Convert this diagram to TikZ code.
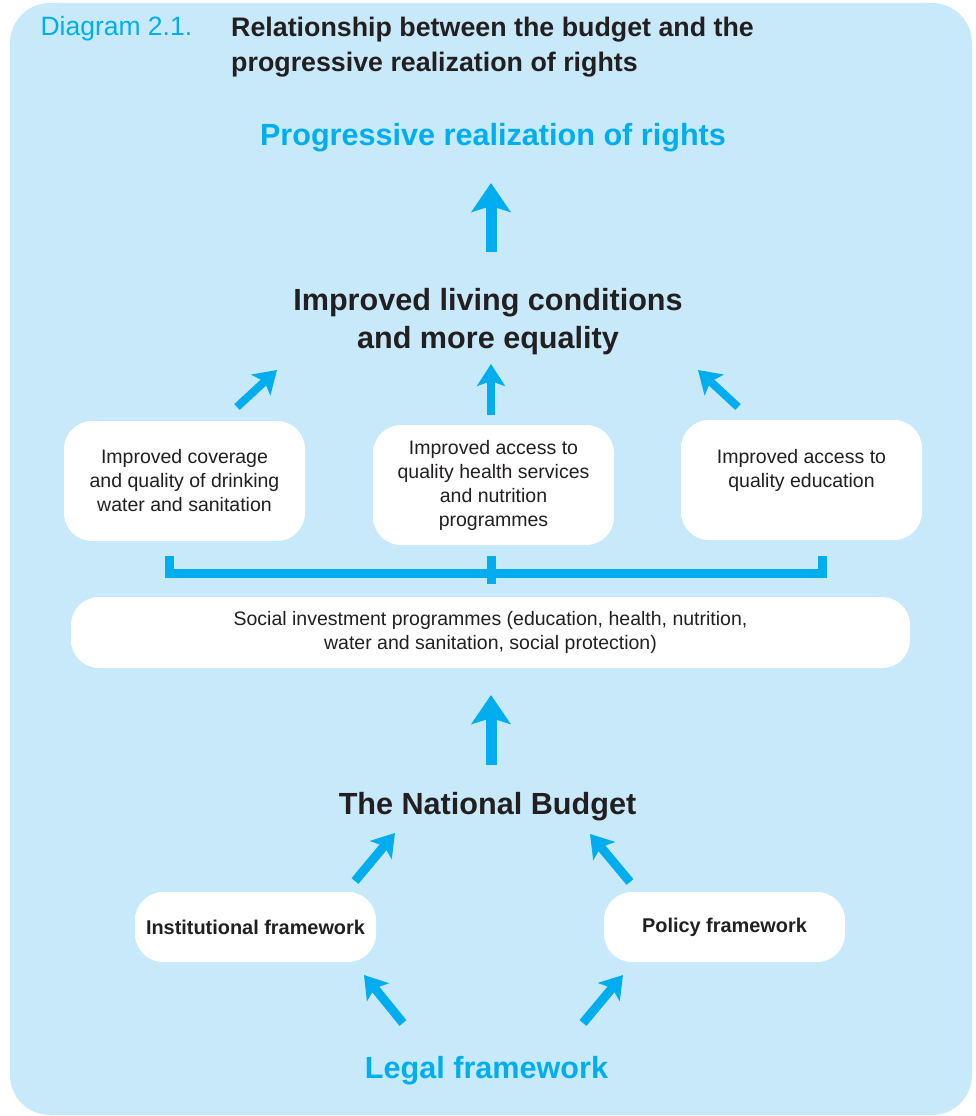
\documentclass[tikz,border=0pt]{standalone}
\usepackage{fontspec}
\setmainfont{Liberation Sans}
\usetikzlibrary{arrows.meta}
\definecolor{ublue}{RGB}{0,174,239}
\definecolor{lightbg}{RGB}{199,233,249}
\definecolor{darktext}{RGB}{35,31,32}
\tikzset{
	box/.style={fill=white, rounded corners=28pt, minimum width=241pt, minimum height=120pt, inner sep=0pt, align=center, text=darktext, font=\fontsize{19.5}{24}\selectfont},
	bigtext/.style={align=center, font=\fontsize{30.6}{38}\selectfont\bfseries},
	bigarrow/.style={draw=ublue, line width=11pt, -{Stealth[length=29pt,width=39pt,inset=6pt]}},
	smallarrow/.style={draw=ublue, line width=8pt, -{Stealth[length=22pt,width=28pt,inset=5pt]}},
	bracket/.style={draw=ublue, line width=9pt},
}

\begin{document}
\begin{tikzpicture}[x=1pt,y=-1pt]
\useasboundingbox (0,0) rectangle (975,1116);
\fill[lightbg, rounded corners=40pt] (10,3) rectangle (972,1115);

\draw (37,36) node[anchor=base west, text=ublue, font=\fontsize{26.5}{35}\selectfont] (diag) {Diagram 2.1.};
\draw (231,17) node[anchor=north west, inner sep=0pt, align=left, text=darktext, font=\fontsize{26.8}{35}\selectfont\bfseries] (title) {Relationship between the budget and the\\progressive realization of rights};

\draw (493,145) node[bigtext, anchor=base, text=ublue] (rights) {Progressive realization of rights};
\draw (488,322) node[bigtext, text=darktext] (living) {Improved living conditions\\and more equality};

\draw (184.5,481) node[box] (water) {Improved coverage\\and quality of drinking\\water and sanitation};
\draw (493.5,485) node[box] (health) {Improved access to\\quality health services\\and nutrition\\programmes};
\draw (801.5,480) node[box] (educ) {Improved access to\\quality education\\\phantom{x}};

\draw (490.5,632.5) node[box, minimum width=839pt, minimum height=71pt] (social) {Social investment programmes (education, health, nutrition,\\water and sanitation, social protection)};

\draw (487.5,814) node[bigtext, anchor=base, text=darktext] (budget) {The National Budget};
\draw (255.5,927) node[box, minimum height=70pt, font=\fontsize{19.9}{24}\selectfont\bfseries] (inst) {Institutional framework};
\draw (724.5,927) node[box, minimum height=70pt, font=\fontsize{19.9}{24}\selectfont\bfseries] (policy) {Policy framework};
\draw (486.5,1078) node[bigtext, anchor=base, text=ublue] (legal) {Legal framework};

\coordinate (brl) at (169,556);
\coordinate (brr) at (822,556);
\coordinate (brm) at (491,556);
\draw[bracket] (brl) -- (169,573.5) -- (822,573.5) -- (brr);
\draw[bracket] (brm) -- (491,584);

\coordinate (a1) at (491,252); \coordinate (b1) at (491,183);
\coordinate (a2) at (491,415); \coordinate (b2) at (491,364);
\coordinate (a3) at (237,407); \coordinate (b3) at (277,370);
\coordinate (a4) at (738,407); \coordinate (b4) at (698,370);
\coordinate (a5) at (491,765); \coordinate (b5) at (491,695);
\coordinate (a6) at (355,881); \coordinate (b6) at (395,833);
\coordinate (a7) at (630,882); \coordinate (b7) at (590,834);
\coordinate (a8) at (403,1023); \coordinate (b8) at (364,975);
\coordinate (a9) at (583,1023); \coordinate (b9) at (623,975);

\draw[bigarrow] (a1) -- (b1);
\draw[smallarrow] (a2) -- (b2);
\draw[smallarrow] (a3) -- (b3);
\draw[smallarrow] (a4) -- (b4);
\draw[bigarrow] (a5) -- (b5);
\draw[smallarrow, line width=9pt] (a6) -- (b6);
\draw[smallarrow, line width=9pt] (a7) -- (b7);
\draw[smallarrow, line width=9pt] (a8) -- (b8);
\draw[smallarrow, line width=9pt] (a9) -- (b9);
\end{tikzpicture}
\end{document}
